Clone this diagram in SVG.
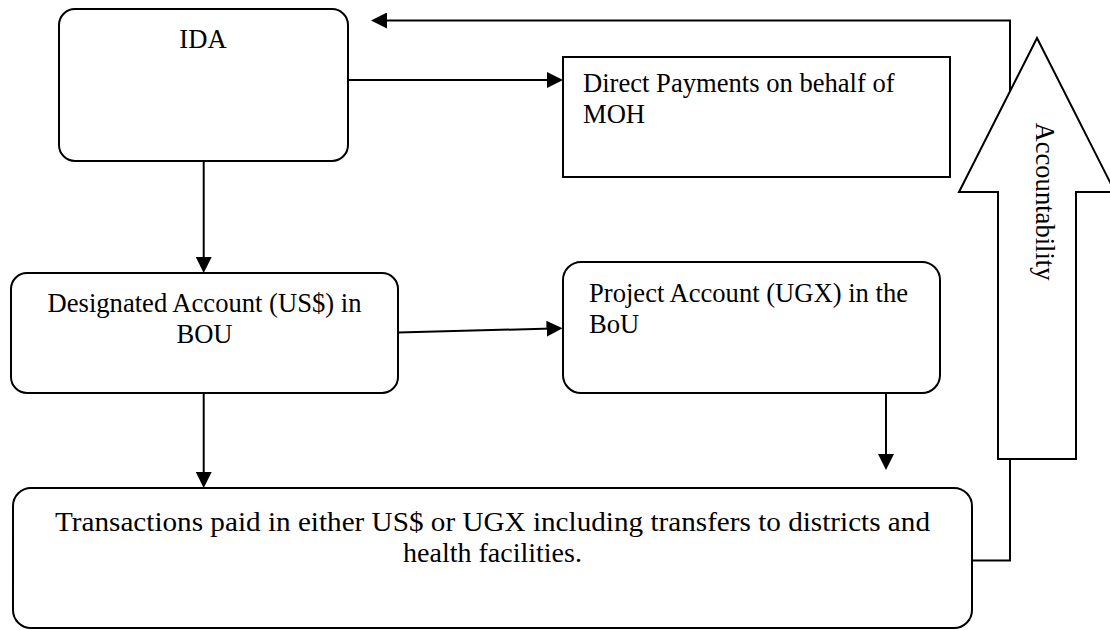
<svg xmlns="http://www.w3.org/2000/svg" width="1110" height="630" viewBox="0 0 1110 630">
  <style>
    .box { fill: #ffffff; stroke: #000000; stroke-width: 2; }
    .conn { fill: none; stroke: #000000; stroke-width: 2; }
    .lbl { font-family: "Liberation Serif", "Times New Roman", serif; font-size: 26.6px; fill: #000000; }
    .big { font-size: 28px; }
  </style>
  <defs>
    <marker id="ah" viewBox="0 0 16 16" refX="6" refY="8" markerWidth="16" markerHeight="16" markerUnits="userSpaceOnUse" orient="auto">
      <path d="M0,0 L16,8 L0,16 z" fill="#000000"/>
    </marker>
  </defs>
  <rect width="1110" height="630" fill="#ffffff"/>

  <g id="connectors">
    <path class="conn" d="M348,80 L553,80" marker-end="url(#ah)"/>
    <path class="conn" d="M203.7,161 L203.7,263" marker-end="url(#ah)"/>
    <path class="conn" d="M398,332.5 L552.5,328.5" marker-end="url(#ah)"/>
    <path class="conn" d="M203.7,393 L203.7,478" marker-end="url(#ah)"/>
    <path class="conn" d="M886,393 L886,460" marker-end="url(#ah)"/>
    <path class="conn" d="M972,560.5 L1010,560.5 L1010,20.5 L381,20.5" marker-end="url(#ah)"/>
  </g>

  <g id="accountability">
    <polygon class="box" points="1037,38 1115,192 1076,192 1076,459 998,459 998,192 959,192"/>
    <text class="lbl" transform="translate(1036,201.5) rotate(90)" text-anchor="middle">Accountability</text>
  </g>

  <g id="ida">
    <rect class="box" x="59" y="9" width="289" height="152" rx="16"/>
    <text class="lbl" x="203" y="48" text-anchor="middle">IDA</text>
  </g>

  <g id="direct-payments">
    <rect class="box" x="563" y="57" width="387" height="120"/>
    <text class="lbl" x="583" y="92">Direct Payments on behalf of</text>
    <text class="lbl" x="583" y="123">MOH</text>
  </g>

  <g id="designated-account">
    <rect class="box" x="11" y="273" width="387" height="120" rx="16"/>
    <text class="lbl" x="204.5" y="311.7" text-anchor="middle">Designated Account (US$) in</text>
    <text class="lbl" x="204.5" y="342.7" text-anchor="middle">BOU</text>
  </g>

  <g id="project-account">
    <rect class="box" x="563" y="262" width="377" height="131" rx="18"/>
    <text class="lbl" x="589" y="301.7">Project Account (UGX) in the</text>
    <text class="lbl" x="589" y="333.3">BoU</text>
  </g>

  <g id="transactions">
    <rect class="box" x="13" y="488" width="959" height="140" rx="18"/>
    <text class="lbl big" x="492.5" y="531" text-anchor="middle" textLength="875" lengthAdjust="spacingAndGlyphs">Transactions paid in either US$ or UGX including transfers to districts and</text>
    <text class="lbl big" x="492.5" y="562" text-anchor="middle">health facilities.</text>
  </g>
</svg>
